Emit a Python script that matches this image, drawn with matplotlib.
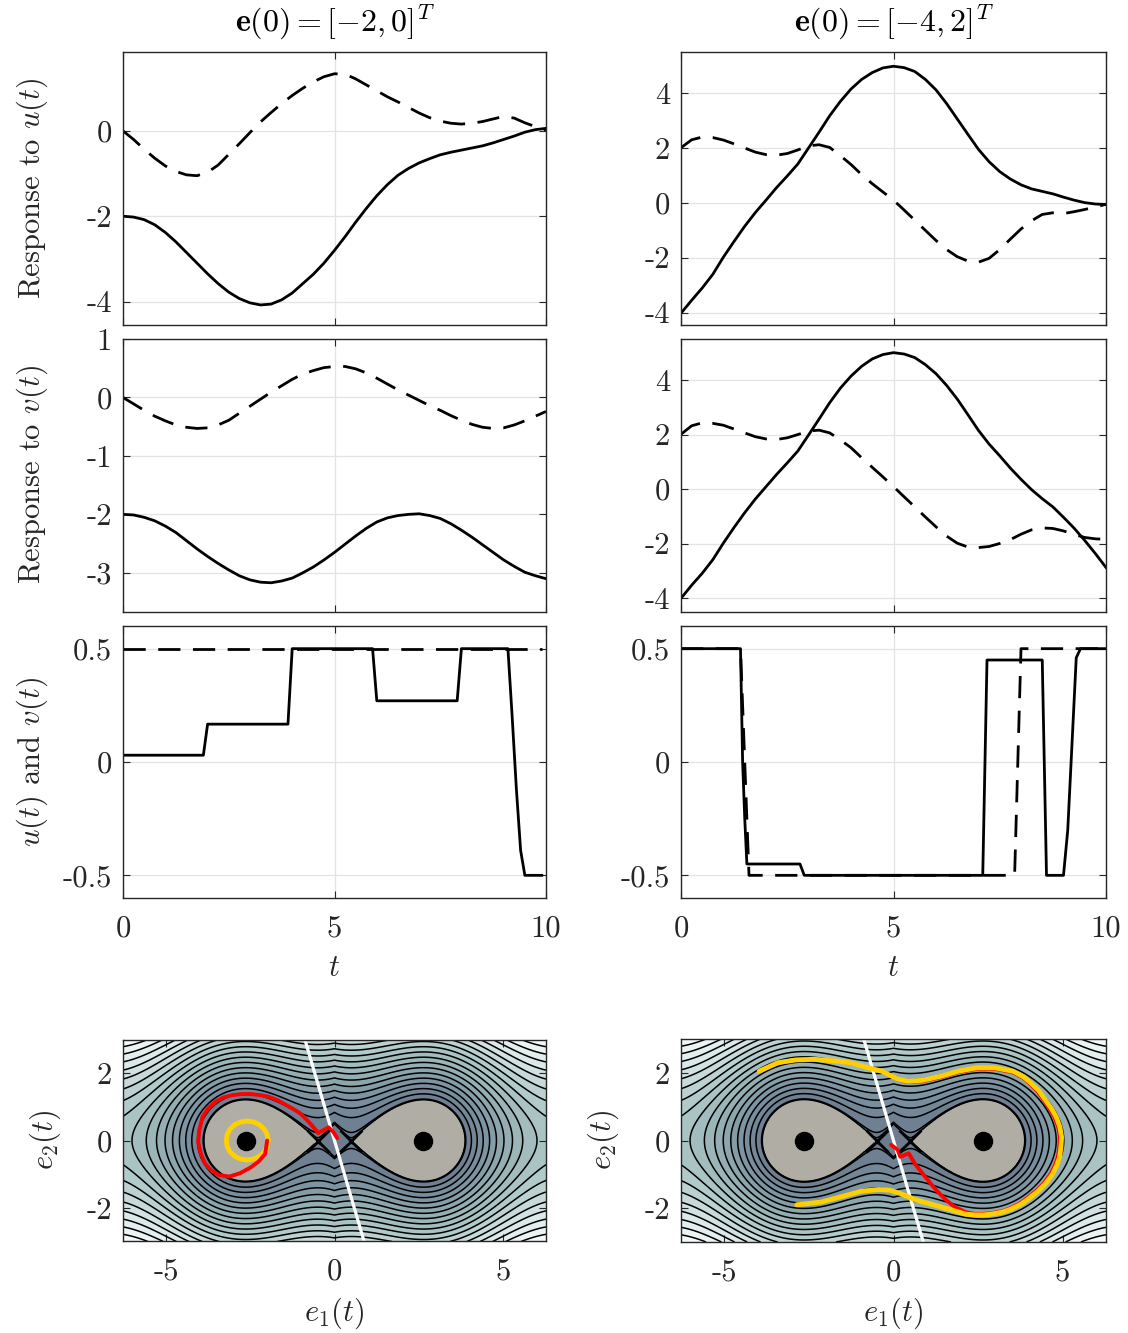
import numpy as np
import matplotlib.pyplot as plt
from matplotlib.colors import LinearSegmentedColormap

plt.rcParams['font.family'] = 'serif'
plt.rcParams['font.serif'] = ['cmr10']
plt.rcParams['mathtext.fontset'] = 'cm'
plt.rcParams['axes.unicode_minus'] = False
plt.rcParams['axes.formatter.use_mathtext'] = True

# ---------------- time responses ----------------
t_grid = np.arange(0, 10.001, 0.25)

# row 1: response to u(t)
r1l_solid = [-2.0, -2.02, -2.08, -2.2, -2.38, -2.6, -2.85, -3.1, -3.35, -3.58, -3.78, -3.93, -4.03, -4.08,
             -4.06, -3.96, -3.8, -3.58, -3.36, -3.1, -2.8, -2.48, -2.14, -1.82, -1.52, -1.26, -1.04, -0.88,
             -0.75, -0.65, -0.56, -0.5, -0.45, -0.4, -0.35, -0.28, -0.2, -0.12, -0.03, 0.03, 0.06]
r1l_dash = [0, -0.2, -0.43, -0.64, -0.82, -0.95, -1.03, -1.05, -0.97, -0.8, -0.55, -0.3, -0.04, 0.21,
            0.43, 0.64, 0.83, 1.0, 1.15, 1.27, 1.34, 1.33, 1.22, 1.08, 0.94, 0.8, 0.68, 0.55,
            0.42, 0.31, 0.23, 0.18, 0.16, 0.18, 0.22, 0.28, 0.34, 0.3, 0.19, 0.1, 0.02]
r1r_solid = [-4.02, -3.55, -3.1, -2.6, -1.97, -1.4, -0.85, -0.35, 0.1, 0.56, 0.98, 1.42, 2.0, 2.58,
             3.18, 3.7, 4.15, 4.5, 4.75, 4.92, 4.98, 4.93, 4.79, 4.5, 4.12, 3.62, 3.06, 2.5,
             1.95, 1.5, 1.14, 0.87, 0.66, 0.51, 0.42, 0.33, 0.21, 0.1, 0.01, -0.04, -0.06]
r1r_dash = [2.01, 2.3, 2.4, 2.38, 2.29, 2.15, 2.0, 1.85, 1.76, 1.74, 1.8, 1.93, 2.08, 2.12,
            2.02, 1.72, 1.4, 1.03, 0.7, 0.4, 0.1, -0.26, -0.63, -1.0, -1.37, -1.7, -1.96, -2.12,
            -2.16, -2.02, -1.7, -1.32, -0.95, -0.65, -0.42, -0.36, -0.39, -0.32, -0.24, -0.15, -0.05]

# row 2: response to v(t)
r2l_solid = [-2.0, -2.01, -2.05, -2.11, -2.2, -2.31, -2.45, -2.59, -2.72, -2.84, -2.95, -3.05, -3.12, -3.16,
             -3.17, -3.14, -3.09, -3.0, -2.9, -2.78, -2.65, -2.51, -2.37, -2.24, -2.13, -2.06, -2.02, -2.0,
             -1.99, -2.02, -2.07, -2.16, -2.27, -2.39, -2.52, -2.65, -2.78, -2.89, -2.99, -3.05, -3.1]
r2l_dash = [0, -0.11, -0.22, -0.32, -0.4, -0.47, -0.51, -0.53, -0.52, -0.47, -0.39, -0.27, -0.15, -0.03,
            0.09, 0.2, 0.31, 0.4, 0.46, 0.51, 0.53, 0.53, 0.49, 0.42, 0.33, 0.23, 0.13, 0.04,
            -0.05, -0.14, -0.22, -0.31, -0.39, -0.46, -0.51, -0.53, -0.52, -0.47, -0.4, -0.32, -0.24]
r2r_solid = [-4.0, -3.52, -3.08, -2.58, -1.97, -1.4, -0.86, -0.36, 0.09, 0.54, 0.96, 1.4, 1.98, 2.57,
             3.17, 3.7, 4.14, 4.5, 4.77, 4.93, 5.0, 4.95, 4.82, 4.56, 4.23, 3.8, 3.3, 2.73,
             2.15, 1.65, 1.22, 0.77, 0.36, -0.02, -0.35, -0.65, -1.03, -1.43, -1.88, -2.36, -2.87]
r2r_dash = [2.01, 2.32, 2.43, 2.41, 2.34, 2.2, 2.06, 1.92, 1.84, 1.82, 1.88, 2.0, 2.13, 2.16,
            2.06, 1.8, 1.52, 1.15, 0.8, 0.45, 0.09, -0.28, -0.65, -1.02, -1.38, -1.72, -1.98, -2.12,
            -2.14, -2.1, -1.99, -1.85, -1.65, -1.49, -1.42, -1.44, -1.53, -1.66, -1.77, -1.82, -1.84]

# row 3: inputs u(t) (solid) and v(t) (dashed)
t_u_l = [0, 1.9, 2.0, 3.9, 4.0, 5.9, 6.0, 7.9, 8.0, 9.1, 9.2, 9.3, 9.4, 9.5, 9.9]
u_l = [0.03, 0.03, 0.167, 0.167, 0.5, 0.5, 0.27, 0.27, 0.5, 0.5, 0.2, -0.12, -0.39, -0.5, -0.5]
t_v_l = [0, 9.9]
v_l = [0.5, 0.5]
t_u_r = [0, 1.4, 1.45, 1.5, 1.55, 2.8, 2.9, 7.1, 7.2, 8.5, 8.6, 9.0, 9.1, 9.3, 9.4, 10.0]
u_r = [0.5, 0.5, 0.0, -0.25, -0.45, -0.45, -0.5, -0.5, 0.45, 0.45, -0.5, -0.5, -0.3, 0.46, 0.5, 0.5]
t_v_r = [0, 1.4, 1.6, 7.85, 8.0, 10]
v_r = [0.5, 0.5, -0.5, -0.5, 0.5, 0.5]

# ---------------- phase plane ----------------
saddle_e1 = 0.5
center_e1 = 2.64
slide_e1 = [-0.88, 0.88]
slide_e2 = [3.0, -3.0]

yel_l_e1 = [-1.97, -2.0, -2.09, -2.23, -2.4, -2.6, -2.79, -2.96, -3.1, -3.19, -3.21, -3.19, -3.1, -2.96, -2.79, -2.6, -2.4, -2.23, -2.09, -2.0, -1.97]
yel_l_e2 = [0.0, 0.18, 0.34, 0.47, 0.55, 0.58, 0.55, 0.47, 0.34, 0.18, 0.0, -0.18, -0.34, -0.47, -0.55, -0.58, -0.55, -0.47, -0.34, -0.18, 0.0]
red_l_e1 = [-2.0, -2.06, -2.25, -2.49, -2.8, -3.12, -3.42, -3.65, -3.85, -3.97, -4.05, -4.02, -3.92, -3.76, -3.54, -3.3, -3.02, -2.75, -2.49, -2.22, -1.96, -1.7, -1.43, -1.2, -1.01, -0.84, -0.68, -0.48, -0.18, -0.04, 0.08]
red_l_e2 = [0.0, -0.4, -0.62, -0.8, -0.97, -1.07, -1.03, -0.9, -0.68, -0.4, -0.05, 0.3, 0.7, 0.95, 1.15, 1.28, 1.35, 1.38, 1.38, 1.35, 1.3, 1.2, 1.05, 0.92, 0.8, 0.63, 0.46, 0.22, 0.39, 0.26, 0.07]

yel_r_e1 = [-3.97, -3.42, -2.9, -2.35, -1.8, -1.28, -0.75, -0.35, 0.11, 0.43, 0.85, 1.39, 1.92, 2.46, 2.99, 3.53, 3.85, 4.06, 4.3, 4.49, 4.68, 4.81, 4.92, 4.97, 4.95, 4.91, 4.82, 4.7, 4.5, 4.27, 4.0, 3.74, 3.47, 3.21, 2.94, 2.67, 2.4, 2.14, 1.71, 1.18, 0.64, 0.21, -0.1, -0.43, -0.96, -1.5, -2.14, -2.86]
yel_r_e2 = [2.05, 2.3, 2.38, 2.4, 2.36, 2.3, 2.15, 2.05, 1.82, 1.75, 1.78, 1.9, 2.05, 2.15, 2.15, 2.05, 1.88, 1.7, 1.47, 1.2, 0.93, 0.7, 0.4, 0.1, -0.2, -0.5, -0.75, -1.0, -1.27, -1.5, -1.72, -1.9, -2.03, -2.12, -2.17, -2.2, -2.2, -2.18, -2.05, -1.9, -1.75, -1.57, -1.47, -1.45, -1.5, -1.65, -1.82, -1.9]
red_r_e1 = [-3.97, -3.42, -2.9, -2.35, -1.8, -1.28, -0.75, -0.35, 0.11, 0.43, 0.85, 1.39, 1.92, 2.46, 2.99, 3.52, 3.83, 4.03, 4.26, 4.45, 4.63, 4.76, 4.87, 4.92, 4.9, 4.86, 4.77, 4.65, 4.46, 4.23, 3.97, 3.72, 3.46, 3.21, 2.94, 2.67, 2.4, 2.14, 1.82, 1.6, 1.39, 1.17, 0.96, 0.8, 0.64, 0.45, 0.2, 0.12, -0.07]
red_r_e2 = [2.05, 2.3, 2.38, 2.4, 2.36, 2.3, 2.15, 2.05, 1.81, 1.73, 1.75, 1.87, 2.02, 2.12, 2.12, 2.02, 1.86, 1.68, 1.45, 1.19, 0.92, 0.69, 0.4, 0.1, -0.2, -0.49, -0.74, -0.98, -1.25, -1.48, -1.69, -1.87, -2.0, -2.09, -2.14, -2.17, -2.17, -2.12, -1.97, -1.8, -1.6, -1.36, -1.1, -0.9, -0.7, -0.38, -0.48, -0.27, -0.13]

# ---------------- figure ----------------
W, H_px = 1128, 1333
fig = plt.figure(figsize=(W / 100, H_px / 100), dpi=100)

def fx(px):
    return px / W

def fy(py):
    return 1 - py / H_px

col_x = [(123, 546), (681, 1106)]
row_y = [(52, 325), (339, 612), (626, 898), (1039, 1242)]
ink = '#262626'
fs = 22

def make_ax(c, r):
    x0, x1 = col_x[c]
    y0, y1 = row_y[r]
    ax = fig.add_axes([fx(x0), fy(y1), fx(x1 - x0), (y1 - y0) / H_px])
    for sp in ax.spines.values():
        sp.set_color(ink)
        sp.set_linewidth(1.0)
    ax.tick_params(direction='in', top=True, right=True, length=5, width=0.8,
                   colors=ink, labelsize=fs)
    ax.tick_params(axis='y', pad=8)
    ax.tick_params(axis='x', pad=12)
    return ax

def time_ax(c, r, ylim, yticks, series):
    ax = make_ax(c, r)
    for (t, y, ls) in series:
        if ls == '-':
            ax.plot(t, y, color='k', lw=2.0, solid_joinstyle='round')
        else:
            ax.plot(t, y, color='k', lw=2.0, dashes=(8, 4.5))
    ax.set_xlim(0, 10)
    ax.set_ylim(*ylim)
    ax.set_xticks([0, 5, 10])
    ax.set_yticks(yticks)
    ax.set_yticklabels([('%g' % v) for v in yticks])
    ax.grid(True, color='#e3e3e3', lw=0.9)
    ax.set_axisbelow(True)
    if r < 2:
        ax.set_xticklabels([])
    else:
        ax.set_xticklabels(['0', '5', '10'])
    return ax

time_ax(0, 0, (-4.55, 1.85), [-4, -2, 0], [(t_grid, r1l_solid, '-'), (t_grid, r1l_dash, '--')])
time_ax(1, 0, (-4.45, 5.5), [-4, -2, 0, 2, 4], [(t_grid, r1r_solid, '-'), (t_grid, r1r_dash, '--')])
time_ax(0, 1, (-3.67, 1.0), [-3, -2, -1, 0, 1], [(t_grid, r2l_solid, '-'), (t_grid, r2l_dash, '--')])
time_ax(1, 1, (-4.5, 5.5), [-4, -2, 0, 2, 4], [(t_grid, r2r_solid, '-'), (t_grid, r2r_dash, '--')])
time_ax(0, 2, (-0.6, 0.6), [-0.5, 0, 0.5], [(t_u_l, u_l, '-'), (t_v_l, v_l, '--')])
time_ax(1, 2, (-0.6, 0.6), [-0.5, 0, 0.5], [(t_u_r, u_r, '-'), (t_v_r, v_r, '--')])

# energy-like field for the phase plane background
g1 = np.linspace(-2 * np.pi, 2 * np.pi, 901)
g2 = np.linspace(-3, 3, 431)
E1, E2 = np.meshgrid(g1, g2)
Hf = 0.5 * E2 ** 2 + np.sin(saddle_e1) * np.abs(E1) + np.cos(E1)
Hc = np.sin(saddle_e1) * center_e1 + np.cos(center_e1)
Hs = np.sin(saddle_e1) * saddle_e1 + np.cos(saddle_e1)
S = np.sqrt(np.clip(Hf - Hc, 0, None))
s_sep = np.sqrt(Hs - Hc)
S_fill = S.copy()
S_fill[(np.abs(E1) < saddle_e1) & (S < s_sep)] = s_sep + 1e-3
s_lev = 0.87 + 0.11 * np.arange(20)

cmap = LinearSegmentedColormap.from_list('bg', ['#6c7c8e', '#7d94a2', '#98b3b6', '#b3cccb', '#dbe8e8', '#f7fafa'])
fill_lev = [-1, s_sep] + list(s_lev) + [10]
band_cols = ['#b0ada5']
for a, b in zip(fill_lev[1:-1], fill_lev[2:]):
    m = 0.5 * (a + min(b, 3.0))
    band_cols.append(cmap(np.clip((m - 0.85) / 2.0, 0, 1)))

def phase_ax(c, yel, red, red_on_top):
    ax = make_ax(c, 3)
    ax.contourf(E1, E2, S_fill, levels=fill_lev, colors=band_cols)
    ax.contour(E1, E2, S, levels=[s_sep + 0.002] + list(s_lev), colors='k', linewidths=1.1)
    ax.plot(slide_e1, slide_e2, color='white', lw=2.3)
    zy = 4 if red_on_top else 3
    ax.plot(yel[0], yel[1], color='#ffd000', lw=3.5, zorder=3.5, solid_capstyle='round')
    ax.plot(red[0], red[1], color='#ff0000', lw=2.8, zorder=zy, solid_capstyle='round')
    ax.plot([-center_e1, center_e1], [0, 0], 'o', color='k', ms=13, zorder=5)
    ax.plot([-saddle_e1, saddle_e1], [0, 0], 'x', color='k', ms=16, mew=2.0, zorder=5)
    ax.set_xlim(-2 * np.pi, 2 * np.pi)
    ax.set_ylim(-3, 3)
    ax.set_aspect('equal', adjustable='box')
    ax.set_xticks([-5, 0, 5])
    ax.set_xticklabels(['-5', '0', '5'])
    ax.set_yticks([-2, 0, 2])
    ax.set_yticklabels(['-2', '0', '2'])
    return ax

phase_ax(0, (yel_l_e1, yel_l_e2), (red_l_e1, red_l_e2), True)
phase_ax(1, (yel_r_e1, yel_r_e2), (red_r_e1, red_r_e2), False)

# titles and labels
fig.text(fx(334.5), fy(22), r'$\mathbf{e}(0) = [-2, 0]^T$', ha='center', va='center', fontsize=23, color='k')
fig.text(fx(893.5), fy(22), r'$\mathbf{e}(0) = [-4, 2]^T$', ha='center', va='center', fontsize=23, color='k')
fig.text(fx(32), fy(188), r'Response to $u(t)$', rotation=90, ha='center', va='center', fontsize=fs, color=ink)
fig.text(fx(32), fy(475), r'Response to $v(t)$', rotation=90, ha='center', va='center', fontsize=fs, color=ink)
fig.text(fx(32), fy(762), r'$u(t)$ and $v(t)$', rotation=90, ha='center', va='center', fontsize=fs, color=ink)
fig.text(fx(45), fy(1140), r'$e_2(t)$', rotation=90, ha='center', va='center', fontsize=fs, color=ink)
fig.text(fx(603), fy(1140), r'$e_2(t)$', rotation=90, ha='center', va='center', fontsize=fs, color=ink)
fig.text(fx(334.5), fy(968), r'$t$', ha='center', va='center', fontsize=fs, color=ink)
fig.text(fx(893.5), fy(968), r'$t$', ha='center', va='center', fontsize=fs, color=ink)
fig.text(fx(334.5), fy(1313), r'$e_1(t)$', ha='center', va='center', fontsize=fs, color=ink)
fig.text(fx(893.5), fy(1313), r'$e_1(t)$', ha='center', va='center', fontsize=fs, color=ink)

plt.savefig('out.png', dpi=100)
